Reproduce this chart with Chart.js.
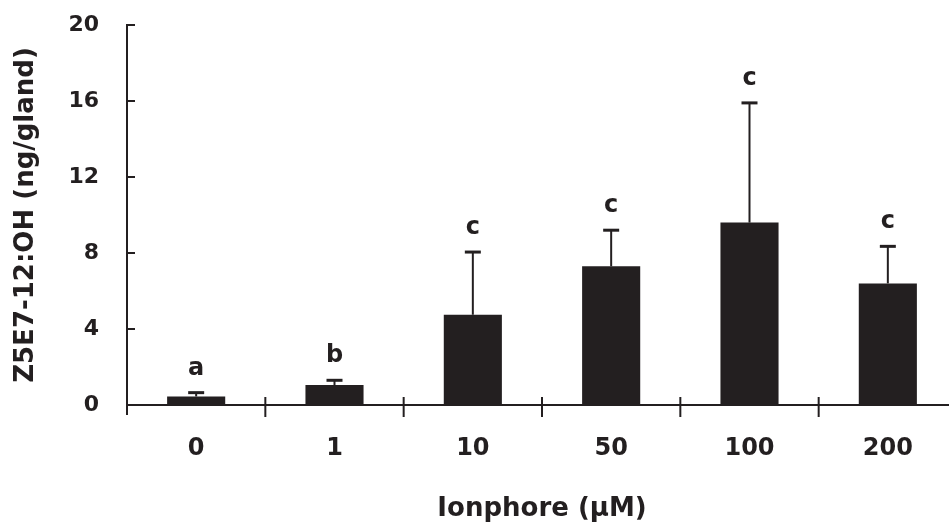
<!DOCTYPE html>
<html>
<head>
<meta charset="utf-8">
<script src="https://cdn.jsdelivr.net/npm/chart.js@4.4.0/dist/chart.umd.min.js"></script>
<style>
  html, body { margin: 0; padding: 0; background: #fff; overflow: hidden; }
  #wrap { width: 960px; height: 527px; }
</style>
</head>
<body>
<div id="wrap"><canvas id="grafico" width="960" height="527"></canvas></div>
<script>
// dados
var doses = ['0', '1', '10', '50', '100', '200'];
var medias = [0.45, 1.05, 4.75, 7.3, 9.6, 6.4];
var erros = [0.2, 0.25, 3.3, 1.9, 6.3, 1.95];
var letras = ['a', 'b', 'c', 'c', 'c', 'c'];
var marcasY = [0, 4, 8, 12, 16, 20];

var cor = '#231f20';
var fonte = '"DejaVu Sans", Verdana, sans-serif';

// barras de erro, letras e marcas dos eixos
var extras = {
    id: 'extras',
    afterDraw: function (chart) {
        var ctx = chart.ctx;
        var x = chart.scales.x;
        var y = chart.scales.y;
        var meta = chart.getDatasetMeta(0);
        var area = chart.chartArea;
        ctx.save();
        ctx.strokeStyle = cor;
        ctx.fillStyle = cor;

        meta.data.forEach(function (bar, i) {
            var topo = y.getPixelForValue(medias[i] + erros[i]);
            var base = y.getPixelForValue(medias[i]);
            ctx.lineWidth = 2;
            ctx.beginPath();
            ctx.moveTo(bar.x, base);
            ctx.lineTo(bar.x, topo);
            ctx.stroke();
            ctx.lineWidth = 3;
            ctx.beginPath();
            ctx.moveTo(bar.x - 8, topo);
            ctx.lineTo(bar.x + 8, topo);
            ctx.stroke();

            ctx.font = 'bold 24px ' + fonte;
            ctx.textAlign = 'center';
            ctx.textBaseline = 'alphabetic';
            ctx.fillText(letras[i], bar.x, topo - 18);
        });

        ctx.lineWidth = 2;
        // marcas do eixo y (para dentro)
        y.ticks.forEach(function (t) {
            var py = y.getPixelForValue(t.value);
            ctx.beginPath();
            ctx.moveTo(area.left, py);
            ctx.lineTo(area.left + 8, py);
            ctx.stroke();
        });
        // eixo y desce um pouco abaixo do zero
        ctx.beginPath();
        ctx.moveTo(area.left, area.bottom);
        ctx.lineTo(area.left, area.bottom + 10);
        ctx.stroke();
        // marcas do eixo x entre categorias
        for (var i = 1; i < doses.length; i++) {
            var px = (x.getPixelForTick(i - 1) + x.getPixelForTick(i)) / 2;
            ctx.beginPath();
            ctx.moveTo(px, area.bottom - 8);
            ctx.lineTo(px, area.bottom + 12);
            ctx.stroke();
        }
        ctx.restore();
    }
};

var ctx = document.getElementById('grafico').getContext('2d');

var grafico = new Chart(ctx, {
    type: 'bar',
    data: {
        labels: doses,
        datasets: [
            {
                label: 'Z5E7-12:OH',
                backgroundColor: cor,
                borderWidth: 0,
                data: medias,
                barPercentage: 0.42,
                categoryPercentage: 1
            }
        ]
    },
    options: {
        responsive: false,
        animation: false,
        events: [],
        layout: { padding: { top: 25, right: 3, bottom: 2, left: 0 } },
        plugins: {
            legend: { display: false },
            tooltip: { enabled: false },
            title: { display: false }
        },
        scales: {
            x: {
                type: 'category',
                offset: true,
                grid: { display: false, drawTicks: false },
                border: { display: true, color: cor, width: 2 },
                ticks: {
                    color: cor,
                    padding: 29,
                    font: { family: fonte, size: 24, weight: 'bold' }
                },
                title: {
                    display: true,
                    text: 'Ionphore (µM)',
                    color: cor,
                    padding: { top: 0, bottom: 0 },
                    font: { family: fonte, size: 26, weight: 'bold' }
                },
                afterFit: function (scale) {
                    scale.height = 120;
                    scale.paddingLeft = 0;
                    scale.paddingRight = 0;
                }
            },
            y: {
                min: 0,
                max: 20,
                afterBuildTicks: function (scale) {
                    scale.ticks = marcasY.map(function (v) { return { value: v }; });
                },
                grid: { display: false, drawTicks: false },
                border: { display: true, color: cor, width: 2 },
                ticks: {
                    color: cor,
                    padding: 28,
                    font: { family: fonte, size: 22, weight: 'bold' }
                },
                title: {
                    display: true,
                    text: 'Z5E7-12:OH (ng/gland)',
                    color: cor,
                    padding: { top: 11, bottom: 0 },
                    font: { family: fonte, size: 26, weight: 'bold' }
                },
                afterFit: function (scale) {
                    scale.width = 127;
                    scale.paddingTop = 0;
                    scale.paddingBottom = 0;
                }
            }
        }
    },
    plugins: [extras]
});
</script>
</body>
</html>
